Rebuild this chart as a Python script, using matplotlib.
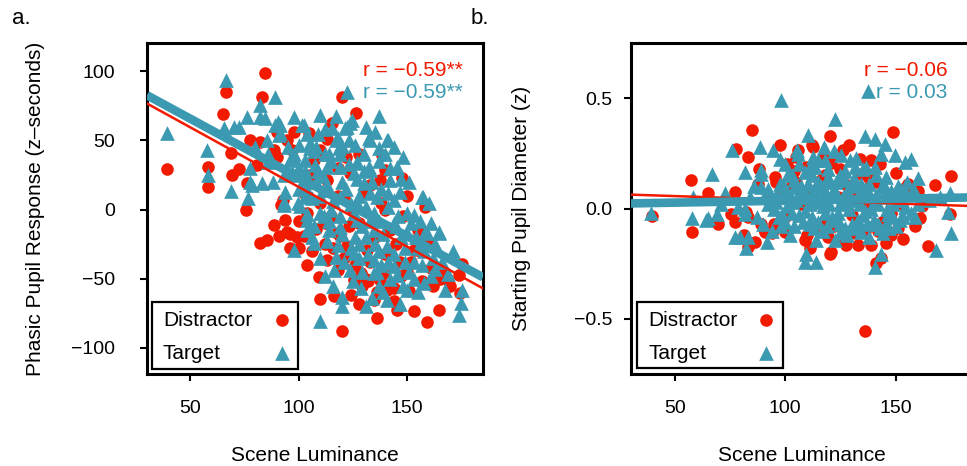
import matplotlib
matplotlib.use("Agg")
import matplotlib.pyplot as plt
from matplotlib.patches import Rectangle

plt.rcParams['font.family'] = ['Liberation Sans', 'DejaVu Sans']

RED = "#F21A00"
TEAL = "#3B9AB2"

# ---- panel a : phasic pupil response vs scene luminance ----
a_dist_x = [84.6, 66.6, 120, 126.6, 65.1, 83.1, 39.2, 58, 58.2, 68.8, 72.3, 69.2, 76.2, 77.4, 82.3,
            80.8, 75.8, 88.5, 97.7, 96.9, 104.6, 113, 115.4, 110, 94.6, 90, 88.5, 93.8, 138.5, 140,
            147.7, 158.4, 140, 137.7, 123.8, 120.8, 102.3, 113.1, 90.8, 94.6, 82.3, 85.4, 99.2, 113.1,
            109.2, 110, 116.2, 120, 136.2, 145.4, 153.1, 159, 164.7, 168.5, 173.9, 175.4, 174.6, 125.5,
            140.8, 150.8, 134.6, 120.8, 133.1, 137.7, 143.8, 160.8, 117.7, 122.3, 131.5, 153.1, 128.5,
            146.9, 103.8, 102.3, 119.2, 90.1, 92.7, 92,
            105, 110, 115, 118, 125, 128, 130, 135, 138, 142, 145, 148, 150, 155, 160, 112, 106, 124,
            129, 132, 139, 126, 140, 116, 108, 150, 157, 170, 165, 100, 96, 122, 128, 133, 118, 107, 99,
            104, 112, 118, 123, 131, 136, 147, 152, 156, 162, 167, 100, 96, 144, 128]
a_dist_y = [99, 85.3, 81.2, 70, 69, 81.2, 29.2, 31, 16.6, 40.7, 29.2, 25, 19, 50.4, 49,
            32.3, 0, 43, 56.4, 43, 55.2, 51, 62.4, 43, 50.4, 38.3, -11, -7.4, 39.5, 28.7,
            22.7, 2, 0, 21.5, 26.3, 9.4, 11.8, 21.5, -19.5, -15.9, -24.3, -21.9, -20, -36.8,
            -48.9, -64.7, -62.4, -88.1, -78.5, -72.5, -73.7, -81.6, -73, -50, -47.2, -39.2, -60.4, -50.8,
            -58, -59.2, -65.2, -35.1, -37.6, -50.8, -56.8, -42.3, -17, -26.7, -29.1, -29.1, -46,
            -37.6, -2.6, -19.5, -19.5, 56.4, 7, 3.4,
            25, 5, -5, 10, 0, -10, 12, -20, 5, -15, -25, -5, 10, -15, -25, -10, -30, -62,
            -55, -52, -46, -40, -32, -28, -14, -45, -52, -55, -50, -8, -28, 38, 40, 18, 30, 36, 25,
            -40, -25, -44, -12, -50, -60, -48, -38, -30, -55, -45, -28, -18, -66, -68]

a_targ_x = [66.6, 39.2, 57.7, 58.2, 68.9, 76.4, 89.2, 82.3, 76.2, 65.4, 70, 72.3, 82.3, 84.6, 89.2,
            91.5, 97.7, 101.5, 90.8, 85.4, 110, 122.3, 136.9, 115.4, 122.3, 124.6, 132.3, 140.8, 136.9,
            105.4, 118.5, 126.9, 145.4, 156.9, 164.6, 158.4, 146.9, 77.7, 83.1, 93, 97.7, 96.9, 103.1,
            107.7, 113.1, 119.2, 125.4, 133.1, 130, 136.2, 143.8, 103.8, 111.5, 119.2, 110, 125.5, 134.6,
            150, 98, 110, 120, 128.5, 133.8, 140.8, 146.9, 157.7, 167.7, 175.4, 174.9, 173.9, 164.7,
            159.2, 153.1, 116.2, 123.8, 145.4, 153.1, 106.9, 113.1, 125.5, 134.6, 140.8, 143.9, 134.6,
            103.9, 111.5, 119.2, 127, 134.6, 143.9, 150, 100.8, 93.2, 121.5, 123.8, 102.3, 132.7, 141,
            145.4, 157.3, 142.3, 132.3, 126.9, 90.5, 91.2, 78.6, 77.4, 85.8, 95.8, 93.5, 102.8, 105.2,
            98.2, 99.7,
            108, 115, 120, 128, 131, 137, 141, 147, 152, 155, 162, 138, 128, 117, 104, 112, 118, 100,
            130, 137, 148, 151, 160, 163, 171, 157, 148, 137, 125, 116,
            102, 106, 109, 113, 116, 119, 122, 124, 127, 129, 131, 133, 135, 139, 141, 144, 146, 149,
            151, 154, 156, 161, 163, 166, 169, 114, 118, 121, 126, 129, 132, 136, 139, 142, 155, 107,
            104, 100, 98, 104, 108, 114, 120, 126, 131, 135, 140, 144, 117, 112, 95, 93, 88, 86, 80,
            110, 112, 120, 131, 150,
            103, 107, 111, 115, 119, 123, 127, 130, 134, 138, 142, 147, 110, 114, 120, 124, 128, 133,
            137, 141, 145, 149, 153, 158, 161, 106, 117, 123, 100, 109]
a_targ_y = [93.7, 55.6, 43, 25, 13.7, 8.2, 81.2, 75.6, 67.2, 58.8, 60, 60, 67.2, 66, 61.2,
            61.2, 67.2, 61.2, 54, 50.4, 68.4, 85.3, 67.7, 58.8, 60, 64.8, 51.6, 50.4, 44.4,
            48, 44.4, 34.7, 31, 9.4, -15.9, -15.9, 13, 20.2, 19, 5.8, 37.1, 27.5, 35.9,
            32.3, 31, 31, 26.3, 28.7, 19, 9.4, 7, 14.2, 14.2, 9.4, -2.6, -2.6, -2.6,
            -2.6, -29.1, -80.9, -63.3, -56.8, -64, -65.2, -68.1, -53.2, -58, -58.5, -67.6, -76.1, -17,
            -17, -3.8, -43.6, -43.6, -47.2, -37.6, -24.3, -23.1, -31.5, -36.3, -26.7, -41.2, -46,
            -7.4, -5, -12.3, -7.4, -14.7, -9.8, -17, 2.2, 3.4, 58.8, 62.4, 61.2, 50.4, 50.4,
            29.9, 9.4, 21.5, 31, 33.5, 63.6, 55.2, 17.8, 29.9, 34.7, 35.9, 13, 9.4, 44.4,
            25, 4.6,
            20, 0, 20, 10, -20, -8, 12, -20, -10, -28, -35, -40, -25, -34, -15, 40, 52, 47,
            40, 35, 38, 20, 5, -43, -30, -40, -55, -55, -52, -55,
            20, 8, 28, 18, 6, -5, 15, 4, 22, -12, 2, 12, -25, -18, 2, -32, -5, -28,
            -45, -20, -8, -10, -25, -38, -47, -15, -26, -38, -20, -45, -32, -45, -60, -50, -60, -12,
            -3, 15, 40, 55, 45, 40, 46, 47, 60, 56, 40, 45, 68, 58, 45, 25, 20, 40, 45,
            -35, -48, -70, -70, -58,
            28, 42, 24, 35, 40, 33, 5, 28, 20, 15, 30, 22, 10, -8, -18, -28, -35, -8,
            -30, -38, -12, -38, -50, -30, -48, -20, 50, 50, 30, 55]

# ---- panel b : starting pupil diameter vs scene luminance ----
b_dist_x = [85, 120.1, 148.8, 77.9, 83.2, 97.5, 105.8, 112.6, 126.1, 133.8, 139, 57.5, 65.1, 77.1,
            87.7, 95.2, 109.6, 120.9, 134.5, 155.6, 168, 174.9, 39.5, 57.8, 69.6, 75.6, 77.1, 82.9,
            89.2, 174.4, 81.4, 86.2, 82.9, 90.7, 93.8, 99.8, 108.8, 111.1, 120.6, 119.4, 127.7, 133,
            139, 145.8, 141.3, 143.5, 153.3, 151.1, 158.6, 160.9, 164.6, 136.3, 131.4, 111.9, 105,
            154.8, 120.1, 82.4,
            92, 98, 103, 107, 112, 116, 118, 124, 127, 130, 133, 137, 141, 144, 147, 150, 152, 157,
            162, 100, 95, 113, 122, 136, 148, 104, 125, 143, 117, 129, 101, 88, 93,
            96, 110, 126, 142, 118, 138, 105, 148, 160, 91]
b_dist_y = [0.357, 0.327, 0.347, 0.271, 0.233, 0.286, 0.264, 0.279, 0.264, 0.226, 0.219, 0.128, 0.071,
            0.075, 0.113, 0.143, 0.188, 0.204, 0.158, 0.113, 0.105, 0.146, -0.035, -0.106, -0.068,
            -0.023, -0.06, -0.038, -0.068, -0.023, -0.121, -0.151, -0.174, -0.106, -0.113, -0.106,
            -0.143, -0.181, -0.196, -0.128, -0.166, -0.166, -0.166, -0.158, -0.249, -0.226, -0.136,
            -0.09, -0.08, -0.045, -0.169, -0.555, -0.113, 0.286, 0.233, 0.098, -0.204, -0.016,
            0.04, 0.06, 0.1, 0.02, 0.08, 0.13, -0.05, 0.05, 0.11, -0.03, 0.07, 0.03, 0.12, -0.06,
            0.05, 0.16, 0.02, 0.06, 0.01, -0.04, -0.07, -0.09, -0.08, -0.1, -0.12, 0.17, 0.18, 0.2,
            0.23, 0.29, 0.2, 0.18, 0.03,
            0.12, -0.12, -0.14, -0.1, 0.15, 0.14, 0.12, -0.02, 0.08, -0.1]

b_targ_x = [98, 122.7, 137.5, 110.3, 136.3, 140.5, 145, 75.9, 88.5, 94.5, 97.5, 105.8, 117.6, 125.4,
            143.5, 149.5, 154.1, 157.1, 66.9, 81.7, 88.9, 101.3, 108.8, 113.3, 119.4, 131.4, 140.5,
            160.1, 72.6, 58.3, 39.1, 57.8, 64.3, 69.3, 78.6, 81.7, 89.2, 97.5, 104.3, 110.3, 119.4,
            126.9, 134.5, 145, 152.6, 158.6, 174.4, 173.7, 175.2, 98.3, 77.1, 83.2, 82.4, 91.9, 109.6,
            108.8, 114.1, 114.1, 122.4, 134.5, 140.5, 143.5, 144.3, 168.4, 158.6, 154.1, 146.5, 105.1,
            112.6, 129.2, 136.7, 145.8, 157.8, 124.7, 153.3, 145.8, 89.2, 79.4, 65.1, 81.7,
            92, 96, 100, 103, 106, 108, 111, 114, 116, 118, 121, 123, 125, 128, 130, 132, 135, 138,
            140, 142, 147, 149, 151, 160, 165, 170, 120, 112, 104, 131, 127, 99, 94, 102, 117, 128,
            138, 106, 115, 122, 84, 87, 71,
            95, 97, 99, 101, 102, 104, 105, 107, 109, 110, 112, 113, 115, 116, 118, 119, 120, 122,
            124, 126, 127, 129, 131, 133, 134, 136, 137, 139, 141, 143, 144, 146, 148, 150, 153, 155,
            92, 90, 86, 125, 135, 111, 100, 118, 132,
            96, 98, 100, 103, 106, 108, 111, 113, 115, 117, 119, 121, 123, 125, 128, 130, 132, 134,
            136, 138, 140, 142, 145, 147, 149, 152, 154, 157, 103, 141]
b_targ_y = [0.493, 0.407, 0.532, 0.332, 0.327, 0.317, 0.294, 0.267, 0.279, 0.267, 0.226, 0.249, 0.279,
            0.241, 0.249, 0.241, 0.211, 0.226, 0.158, 0.166, 0.158, 0.158, 0.166, 0.188, 0.181, 0.188,
            0.188, 0.136, 0.068, 0.052, -0.02, -0.045, -0.053, -0.023, 0.007, -0.023, 0.098, 0.113,
            0.098, 0.113, 0.143, 0.128, 0.113, 0.098, 0.083, 0.075, 0.068, -0.015, -0.113, -0.023,
            -0.128, -0.128, -0.181, -0.151, -0.204, -0.241, -0.241, -0.143, -0.143, -0.106, -0.264,
            -0.204, -0.113, -0.189, -0.038, 0.007, -0.023, 0.264, 0.233, 0.219, 0.188, 0.143, 0.083,
            -0.113, -0.038, -0.068, 0.173, -0.128, -0.045, 0.0,
            0.02, 0.06, -0.06, 0.03, -0.03, 0.07, -0.07, 0.03, 0.1, -0.02, 0.06, -0.05, 0.02, 0.08,
            -0.07, 0.04, -0.03, 0.07, -0.05, 0.02, 0.05, -0.04, 0.1, 0.02, 0.04, 0.05, 0.12, 0.15,
            0.13, 0.14, 0.17, 0.08, -0.1, -0.12, -0.1, -0.12, -0.13, 0.2, 0.22, 0.26, 0.05, -0.04, 0.02,
            0.0, -0.04, 0.11, 0.01, 0.06, -0.08, 0.04, 0.1, -0.01, 0.05, -0.04, 0.09, -0.06, 0.04,
            0.08, -0.08, 0.02, 0.09, -0.02, 0.05, -0.09, 0.0, 0.1, -0.05, 0.02, 0.09, -0.07, 0.0,
            0.06, -0.09, 0.1, 0.0, 0.08, -0.08, 0.04, 0.12,
            0.09, -0.07, 0.1, 0.15, 0.18, 0.19, 0.2, 0.22, 0.23,
            0.03, -0.08, 0.09, -0.02, 0.07, -0.06, 0.02, -0.09, 0.12, 0.01, 0.06, -0.04, 0.12, -0.07,
            0.03, 0.11, -0.09, 0.06, -0.01, 0.11, 0.03, -0.07, 0.06, -0.09, 0.02, -0.05, 0.08, -0.02,
            0.15, 0.15]

# fitted lines (intercept, slope)
a_fit_dist = (102.6, -0.863)
a_fit_targ = (108.2, -0.85)
b_fit_dist = (0.073, -0.000335)
b_fit_targ = (0.0177, 0.000177)

a_r = ["r = \u22120.59**", "r = \u22120.59**"]
b_r = ["r = \u22120.06", "r = 0.03"]
legend_labels = ["Distractor", "Target"]

W, H = 967, 466
fig = plt.figure(figsize=(W / 100, H / 100), dpi=100)


def frac(x0, y0, x1, y1):
    return [x0 / W, 1 - y1 / H, (x1 - x0) / W, (y1 - y0) / H]


ax_a = fig.add_axes(frac(147, 43, 483, 374))
ax_b = fig.add_axes(frac(630.7, 43, 973, 374))

panels = [
    dict(ax=ax_a, d=(a_dist_x, a_dist_y), t=(a_targ_x, a_targ_y), fd=a_fit_dist, ft=a_fit_targ,
         r=a_r, rx=0.940, ylim=(-119, 120.5), yt=[-100, -50, 0, 50, 100],
         ytl=["\u2212100", "\u221250", "0", "50", "100"],
         ylab="Phasic Pupil Response (z\u2013seconds)", ylabx=-0.333, ypad=18,
         leg=(0.0149, 0.0151, 0.4345, 0.2024), legtx=0.0476, legmx=0.402),
    dict(ax=ax_b, d=(b_dist_x, b_dist_y), t=(b_targ_x, b_targ_y), fd=b_fit_dist, ft=b_fit_targ,
         r=b_r, rx=0.926, ylim=(-0.75, 0.75), yt=[-0.5, 0.0, 0.5],
         ytl=["\u22120.5", "0.0", "0.5"],
         ylab="Starting Pupil Diameter (z)", ylabx=-0.32, ypad=8,
         leg=(0.0175, 0.0172, 0.428, 0.201), legtx=0.0514, legmx=0.395),
]

for p in panels:
    ax = p['ax']
    ax.scatter(*p['d'], s=82, marker='o', color=RED, linewidths=0, zorder=2)
    ax.scatter(*p['t'], s=112, marker='^', color=TEAL, linewidths=0, zorder=3)
    ax.axline((0, p['fd'][0]), slope=p['fd'][1], color=RED, lw=1.8, zorder=4)
    ax.axline((0, p['ft'][0]), slope=p['ft'][1], color=TEAL, lw=6.2, zorder=5,
              solid_capstyle='butt')
    ax.set_xlim(30, 185)
    ax.set_ylim(*p['ylim'])
    ax.set_xticks([50, 100, 150])
    ax.set_yticks(p['yt'])
    ax.set_yticklabels(p['ytl'])
    ax.tick_params(direction='out', length=5, width=1.5, labelsize=14, pad=14)
    ax.tick_params(axis='y', pad=p['ypad'])
    for sp in ax.spines.values():
        sp.set_linewidth(2.2)
    ax.set_xlabel("Scene Luminance", fontsize=15)
    ax.xaxis.set_label_coords(0.5, -0.245)
    ax.xaxis.label.set_va('center')
    ax.set_ylabel(p['ylab'], fontsize=15)
    ax.yaxis.label.set_va('center')
    ax.yaxis.set_label_coords(p['ylabx'], 0.5)

    ax.text(p['rx'], 0.918, p['r'][0], color=RED, fontsize=15, ha='right', va='center',
            transform=ax.transAxes, zorder=6)
    ax.text(p['rx'], 0.849, p['r'][1], color=TEAL, fontsize=15, ha='right', va='center',
            transform=ax.transAxes, zorder=6)

    # legend box drawn by hand (R style: labels left, symbols right)
    lx, ly, lw_, lh = p['leg']
    ax.add_patch(Rectangle((lx, ly), lw_, lh, transform=ax.transAxes, facecolor='white',
                           edgecolor='black', lw=1.6, zorder=10, clip_on=False))
    for row_y, lab, mk, col, ms in [(0.163, legend_labels[0], 'o', RED, 82),
                                    (0.0634, legend_labels[1], '^', TEAL, 112)]:
        ax.text(p['legtx'], row_y, lab, fontsize=15, ha='left', va='center',
                transform=ax.transAxes, zorder=11)
        ax.scatter([p['legmx']], [row_y], s=ms, marker=mk, color=col, linewidths=0,
                   transform=ax.transAxes, zorder=11, clip_on=False)

fig.text(12 / W, 1 - 18 / H, "a.", fontsize=16, va='center', ha='left')
fig.text(471 / W, 1 - 18 / H, "b.", fontsize=16, va='center', ha='left')

fig.savefig("out.png", dpi=100)
